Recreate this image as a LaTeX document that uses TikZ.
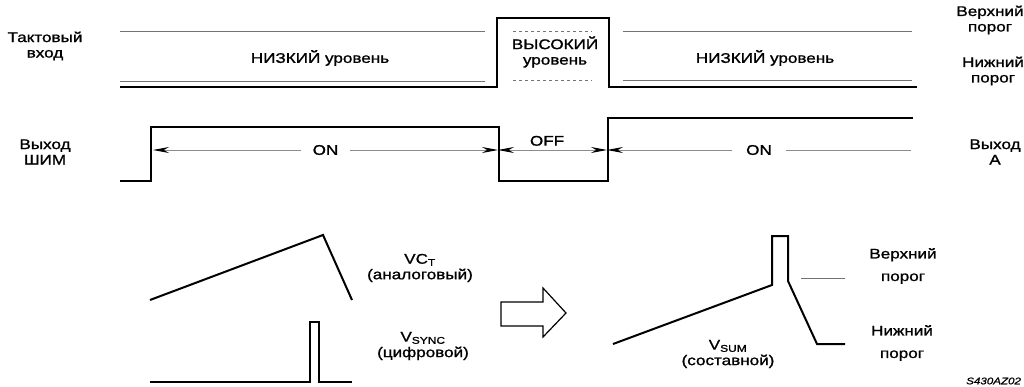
\documentclass[tikz,border=0pt]{standalone}
\usepackage{fontspec}
\setmainfont{Liberation Sans}[FakeStretch=1.22,FakeBold=1.2]
\usetikzlibrary{arrows.meta,calc}
\usetikzlibrary{positioning}

\begin{document}
\begin{tikzpicture}[x=1pt,y=-1pt,
    sig/.style={line width=2.2pt, line join=miter},
    thr/.style={black!55, line width=0.9pt},
    dimline/.style={black!45, line width=0.9pt},
    dimarrows/.style={dimline, {Stealth[length=16pt,width=6pt,black]}-{Stealth[length=16pt,width=6pt,black]}},
    lbl/.style={align=center, inner sep=1pt, text=black, font=\fontsize{14}{15.5}\selectfont}]
  \useasboundingbox (0,0) rectangle (1024,387);
  %Labels
  \node[lbl] (clkin)  at (45,46)   {Тактовый\\вход};
  \node[lbl] (pwmout) at (45,152)  {Выход\\ШИМ};
  \node[lbl] (lowA)   at (320,58)  {НИЗКИЙ уровень};
  \node[lbl] (high)   at (555,52)  {ВЫСОКИЙ\\уровень};
  \node[lbl] (lowB)   at (765,58)  {НИЗКИЙ уровень};
  \node[lbl] (upthr)  at (990,20)  {Верхний\\порог};
  \node[lbl] (lothr)  at (993,71)  {Нижний\\порог};
  \node[lbl] (outA)   at (995,152) {Выход\\A};
  \node[lbl] (vct)    at (420,268) {VC\textsubscript{T}\\(аналоговый)};
  \node[lbl] (vsync)  at (423,346) {V\textsubscript{SYNC}\\(цифровой)};
  \node[lbl] (vsum)   at (728,354) {V\textsubscript{SUM}\\(составной)};
  \node[lbl] (upthrB) at (903,266) {Верхний\\[7pt]порог};
  \node[lbl] (lothrB) at (902,343) {Нижний\\[7pt]порог};
  \node[inner sep=0pt, anchor=west, font=\fontsize{9.5}{10}\itshape] (fig) at (966,381) {S430AZ02};

  %Thresholds
  \draw[thr] (120,31) -- (485,31);
  \draw[thr] (120,81) -- (485,81);
  \draw[thr, dashed] (513,31) -- (592,31);
  \draw[thr, dashed] (513,80) -- (592,80);
  \draw[thr] (623,31) -- (912,31);
  \draw[thr] (623,80) -- (912,80);
  \draw[thr] (801,278) -- (845,278);

  %Clock input
  \draw[sig] (120,87) -- (497,87) -- (497,18) -- (609,18) -- (609,87) -- (917,87);
  %PWM output
  \draw[sig] (120,181) -- (151,181) -- (151,127) -- (499,127) -- (499,181)
    -- (608,181) -- (608,118) -- (913,118);

  %ON / OFF times
  \coordinate (on1L) at (153,150);
  \coordinate (on1R) at (498,150);
  \coordinate (offR) at (607,150);
  \coordinate (on2R) at (911,150);
  \draw[dimarrows] (on1L) -- node[lbl, fill=white, inner xsep=12pt] (on1) {ON} (on1R);
  \draw[dimarrows] (on1R) -- (offR);
  \node[lbl, above=3pt of $(on1R)!0.45!(offR)$] (off) {OFF};
  \draw[dimline, {Stealth[length=16pt,width=6pt,black]}-] (offR) -- node[lbl, fill=white, inner xsep=14pt] (on2) {ON} (on2R);

  %Ramp and sync pulse
  \draw[sig, line width=2pt] (150,300) -- (323,235) -- (352,300);
  \draw[sig, line width=2pt] (150,382) -- (310,382) -- (310,322) -- (319,322) -- (319,382) -- (352,382);

  %Hollow arrow
  \draw[line width=1.2pt, line join=miter] (501,302) -- (543,302) -- (543,288) -- (566,313)
    -- (543,337) -- (543,326) -- (501,326) -- cycle;

  %Sum
  \draw[sig, line width=2pt] (613,344) -- (772,285) -- (772,236) -- (788,236) -- (788,281)
    -- (817,344) -- (845,344);
\end{tikzpicture}
\end{document}
